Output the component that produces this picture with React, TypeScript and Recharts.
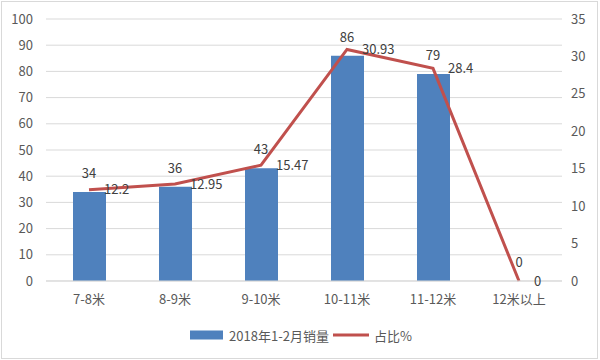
import React from 'react';
import { ComposedChart, Bar, Line, XAxis, YAxis, CartesianGrid, Legend, LabelList } from 'recharts';

const categories = ['7-8米', '8-9米', '9-10米', '10-11米', '11-12米', '12米以上'];
const sales = [34, 36, 43, 86, 79, 0];
const shares = [12.2, 12.95, 15.47, 30.93, 28.4, 0];
const leftTicks = [0, 10, 20, 30, 40, 50, 60, 70, 80, 90, 100];
const rightTicks = [0, 5, 10, 15, 20, 25, 30, 35];

const salesName = '2018年1-2月销量';
const shareName = '占比%';

const data = categories.map((name, i) => ({ name, sales: sales[i], share: shares[i] }));

const FONT = '"Noto Sans CJK SC", "Noto Sans", sans-serif';
const axisText = { fill: '#595959', fontSize: 13, fontFamily: FONT };
const labelText = { fill: '#404040', fontSize: 13, fontFamily: FONT };

// Excel-style legend: wide blue box, short red line
const LegendBox = () => (
  <div style={{ display: 'flex', justifyContent: 'center', alignItems: 'center', height: 20, fontFamily: FONT, fontSize: 13, color: '#595959' }}>
    <svg width={33} height={12} style={{ marginRight: 6 }}>
      <rect x={0} y={1.5} width={33} height={9} fill="#4F81BD" />
    </svg>
    <span style={{ marginRight: 4 }}>{salesName}</span>
    <svg width={36} height={12} style={{ marginRight: 5 }}>
      <line x1={0} y1={6} x2={36} y2={6} stroke="#C0504D" strokeWidth={3} />
    </svg>
    <span>{shareName}</span>
  </div>
);

export default function App() {
  return (
    <div style={{ position: 'absolute', left: 0, top: 0, width: 600, height: 360, background: '#fff' }}>
      <div style={{ position: 'absolute', left: 1, top: 1, width: 595, height: 356, border: '1px solid #D9D9D9' }} />
      <ComposedChart
        width={600}
        height={360}
        data={data}
        margin={{ top: 19, right: 8, left: 10, bottom: 15 }}
      >
        <CartesianGrid yAxisId="left" vertical={false} stroke="#D9D9D9" />
        <XAxis
          dataKey="name"
          tickLine={false}
          axisLine={{ stroke: '#D9D9D9' }}
          tick={axisText}
          tickMargin={8}
          height={44}
          interval={0}
        />
        <YAxis
          yAxisId="left"
          domain={[0, 100]}
          ticks={leftTicks}
          axisLine={false}
          tickLine={false}
          tick={axisText}
          tickMargin={7}
          width={36}
        />
        <YAxis
          yAxisId="right"
          orientation="right"
          domain={[0, 35]}
          ticks={rightTicks}
          axisLine={false}
          tickLine={false}
          tick={{ ...axisText, textAnchor: 'start' }}
          tickMargin={3}
          width={30}
        />
        <Legend verticalAlign="bottom" height={20} content={<LegendBox />} />
        <Bar yAxisId="left" dataKey="sales" name={salesName} fill="#4F81BD" barSize={33} isAnimationActive={false} />
        {/* invisible series carrying the bar value labels, so the zero bar gets one too */}
        <Line
          yAxisId="left"
          dataKey="sales"
          stroke="none"
          dot={false}
          activeDot={false}
          legendType="none"
          isAnimationActive={false}
        >
          <LabelList dataKey="sales" position="top" offset={14} style={labelText} />
        </Line>
        <Line
          yAxisId="right"
          type="linear"
          dataKey="share"
          name={shareName}
          stroke="#C0504D"
          strokeWidth={3}
          dot={false}
          isAnimationActive={false}
        >
          <LabelList dataKey="share" position="right" offset={15} style={labelText} />
        </Line>
      </ComposedChart>
    </div>
  );
}
